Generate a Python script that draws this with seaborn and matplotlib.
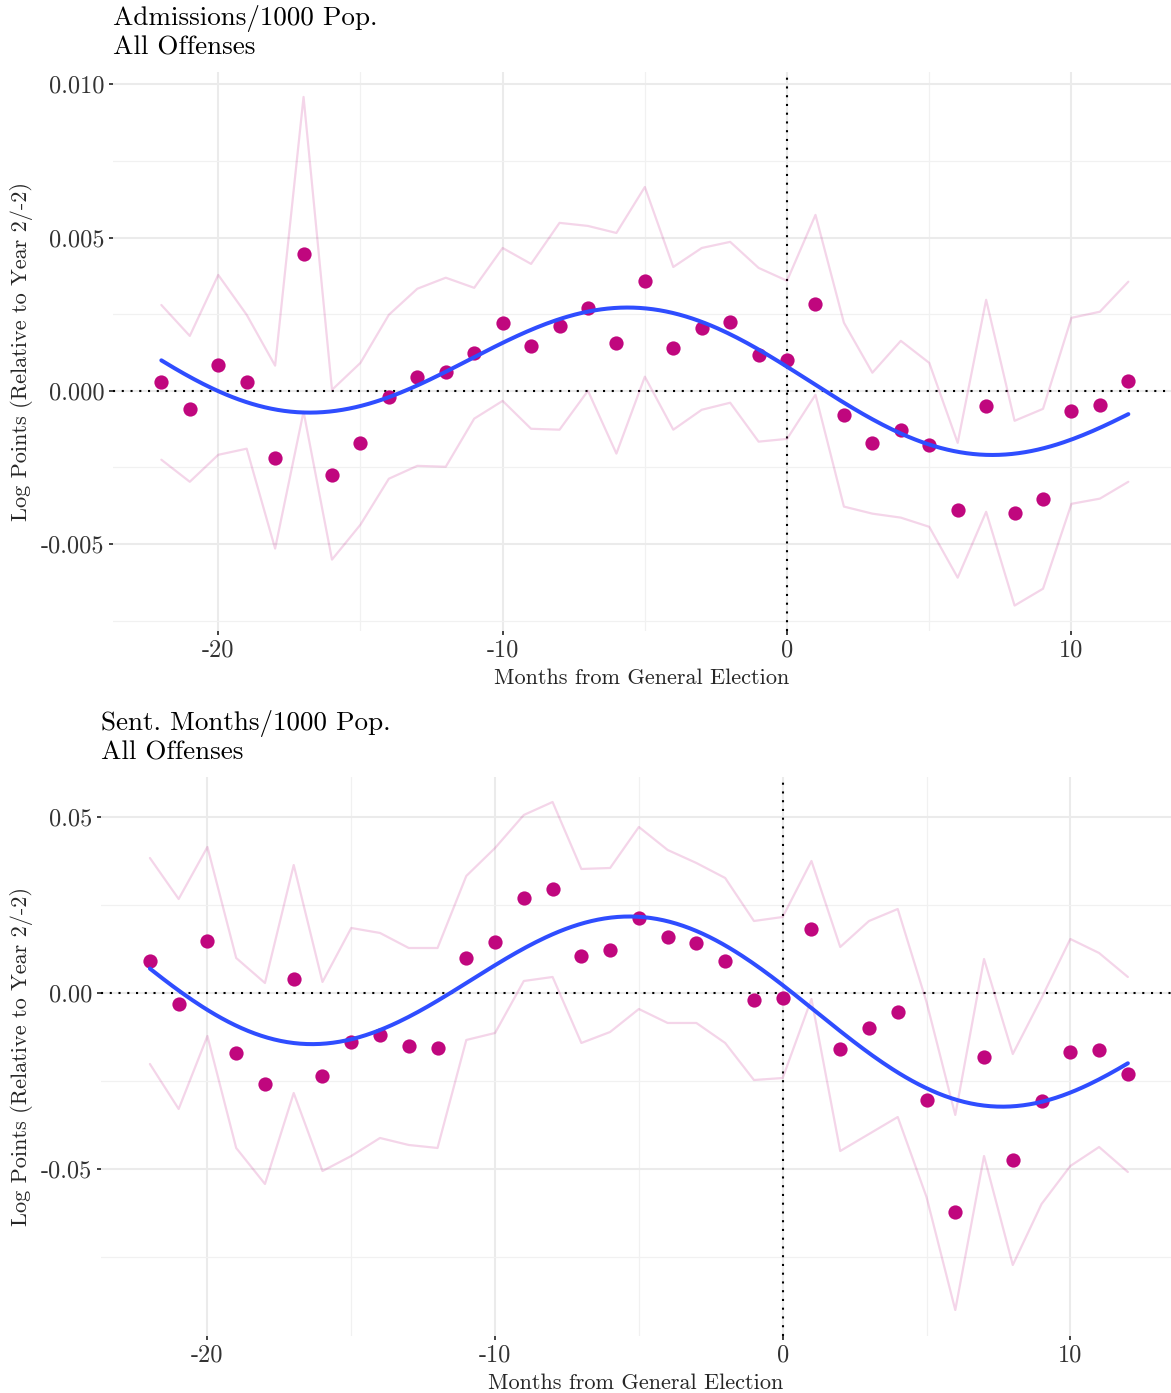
import numpy as np
import pandas as pd
import matplotlib
matplotlib.use("Agg")
import matplotlib.pyplot as plt
import seaborn as sns

# Event-study estimates by month relative to the general election
months = list(range(-22, 13))

adm_est = [0.00029, -0.00059, 0.00085, 0.00029, -0.00219, 0.00447, -0.00274, -0.00170,
           -0.00020, 0.00046, 0.00062, 0.00124, 0.00222, 0.00147, 0.00212, 0.00271,
           0.00157, 0.00359, 0.00140, 0.00205, 0.00225, 0.00117, 0.00101, 0.00284,
           -0.00078, -0.00170, -0.00127, -0.00176, -0.00388, -0.00049, -0.00398, -0.00352,
           -0.00065, -0.00046, 0.00033]
adm_lo = [-0.00225, -0.00297, -0.00209, -0.00189, -0.00515, -0.00068, -0.00551, -0.00437,
          -0.00287, -0.00245, -0.00248, -0.00091, -0.00033, -0.00124, -0.00127, 0.00000,
          -0.00205, 0.00046, -0.00127, -0.00062, -0.00039, -0.00166, -0.00157, -0.00013,
          -0.00378, -0.00401, -0.00414, -0.00444, -0.00610, -0.00395, -0.00701, -0.00646,
          -0.00369, -0.00352, -0.00297]
adm_hi = [0.00280, 0.00179, 0.00378, 0.00248, 0.00082, 0.00959, 0.00003, 0.00091,
          0.00248, 0.00333, 0.00369, 0.00336, 0.00466, 0.00414, 0.00548, 0.00538,
          0.00515, 0.00665, 0.00404, 0.00466, 0.00486, 0.00401, 0.00359, 0.00574,
          0.00222, 0.00059, 0.00163, 0.00091, -0.00170, 0.00297, -0.00098, -0.00059,
          0.00238, 0.00258, 0.00356]

sent_est = [0.00909, -0.00313, 0.01477, -0.01705, -0.02585, 0.00398, -0.02358, -0.01392,
            -0.01193, -0.01506, -0.01563, 0.00994, 0.01449, 0.02699, 0.02955, 0.01051,
            0.01222, 0.02131, 0.01591, 0.01420, 0.00909, -0.00199, -0.00142, 0.01818,
            -0.01591, -0.00994, -0.00540, -0.03040, -0.06220, -0.01818, -0.04744, -0.03068,
            -0.01676, -0.01619, -0.02301]
sent_lo = [-0.02017, -0.03295, -0.01222, -0.04403, -0.05426, -0.02841, -0.05057, -0.04631,
           -0.04119, -0.04318, -0.04403, -0.01335, -0.01136, 0.00341, 0.00455, -0.01420,
           -0.01108, -0.00455, -0.00852, -0.00852, -0.01420, -0.02472, -0.02415, -0.00170,
           -0.04489, -0.04006, -0.03523, -0.05795, -0.09006, -0.04631, -0.07727, -0.05994,
           -0.04915, -0.04375, -0.05085]
sent_hi = [0.03835, 0.02670, 0.04148, 0.00994, 0.00284, 0.03636, 0.00313, 0.01847,
           0.01705, 0.01278, 0.01278, 0.03324, 0.04119, 0.05057, 0.05426, 0.03523,
           0.03551, 0.04716, 0.04063, 0.03693, 0.03267, 0.02045, 0.02159, 0.03750,
           0.01307, 0.02045, 0.02386, -0.00256, -0.03466, 0.00966, -0.01733, -0.00142,
           0.01534, 0.01136, 0.00455]

x_ticks = [-20, -10, 0, 10]
x_ticklabels = ["-20", "-10", "0", "10"]
adm_yticks = [-0.005, 0.0, 0.005, 0.010]
adm_yticklabels = ["-0.005", "0.000", "0.005", "0.010"]
sent_yticks = [-0.05, 0.0, 0.05]
sent_yticklabels = ["-0.05", "0.00", "0.05"]

POINT = "#C0077E"
BAND = "#C0077E"
SMOOTH = "#2F4DFF"
PERIOD = 24.0


def cycle_design(x):
    x = np.asarray(x, dtype=float)
    w = 2 * np.pi * x / PERIOD
    return np.column_stack([np.ones_like(x), x, np.sin(w), np.cos(w)])


def cycle_smooth(x, y, grid):
    coef, *_ = np.linalg.lstsq(cycle_design(x), np.asarray(y), rcond=None)
    return cycle_design(grid) @ coef


sns.set_theme(style="whitegrid")
plt.rcParams["font.family"] = ["cmr10", "DejaVu Serif"]
plt.rcParams["axes.formatter.use_mathtext"] = True

fig = plt.figure(figsize=(11.71, 13.93), dpi=100)
H = 1393.0
W = 1171.0


def panel(left_px, top_px, bottom_px):
    return fig.add_axes([left_px / W, (H - bottom_px) / H, 1 - left_px / W,
                         (bottom_px - top_px) / H])


panels = [
    dict(ax=panel(113, 71.5, 631), est=adm_est, lo=adm_lo, hi=adm_hi,
         ylim=(-0.00784, 0.01042), yticks=adm_yticks, ylabels=adm_yticklabels,
         yminor=[-0.0075, -0.0025, 0.0025, 0.0075],
         title="Admissions/1000 Pop.\nAll Offenses"),
    dict(ax=panel(101, 776.5, 1335.5), est=sent_est, lo=sent_lo, hi=sent_hi,
         ylim=(-0.0973, 0.0615), yticks=sent_yticks, ylabels=sent_yticklabels,
         yminor=[-0.075, -0.025, 0.025],
         title="Sent. Months/1000 Pop.\nAll Offenses"),
]

grid = np.linspace(-22, 12, 300)

for p in panels:
    ax = p["ax"]
    df = pd.DataFrame({"month": months, "est": p["est"], "lo": p["lo"], "hi": p["hi"]})
    fit = pd.DataFrame({"month": grid, "fit": cycle_smooth(months, p["est"], grid)})

    ax.set_facecolor("white")
    for s in ax.spines.values():
        s.set_visible(False)

    ax.axhline(0, color="black", lw=1.5, ls=(0, (1, 3.2)), zorder=2)
    ax.axvline(0, color="black", lw=1.5, ls=(0, (1, 3.2)), zorder=2)

    sns.lineplot(data=df, x="month", y="lo", ax=ax, color=BAND, alpha=0.17, lw=1.6, zorder=3)
    sns.lineplot(data=df, x="month", y="hi", ax=ax, color=BAND, alpha=0.17, lw=1.6, zorder=3)
    sns.scatterplot(data=df, x="month", y="est", ax=ax, color=POINT, s=105,
                    linewidth=0, zorder=4)
    sns.lineplot(data=fit, x="month", y="fit", ax=ax, color=SMOOTH, lw=2.9, zorder=5)

    ax.set_xlim(-23.7, 13.5)
    ax.set_ylim(*p["ylim"])
    ax.set_xticks(x_ticks)
    ax.set_xticklabels(x_ticklabels)
    ax.set_xticks([-15, -5, 5], minor=True)
    ax.set_yticks(p["yticks"])
    ax.set_yticklabels(p["ylabels"])
    ax.set_yticks(p["yminor"], minor=True)

    ax.grid(which="major", color="#EBEBEB", lw=1.5)
    ax.grid(which="minor", color="#F1F1F1", lw=0.9)
    ax.set_axisbelow(True)
    ax.tick_params(which="major", length=3.2, width=1.3, color="#333333",
                   labelsize=17.5, labelcolor="#333333", pad=3,
                   bottom=True, left=True)
    ax.tick_params(which="minor", length=0)

    ax.set_xlabel("Months from General Election", fontsize=16, labelpad=5)
    ax.set_ylabel("Log Points (Relative to Year 2/-2)", fontsize=16, labelpad=6)
    ax.set_title(p["title"], loc="left", fontsize=19.5, pad=12, linespacing=1.2,
                 color="black")

fig.savefig("out.png", dpi=100, facecolor="white")
